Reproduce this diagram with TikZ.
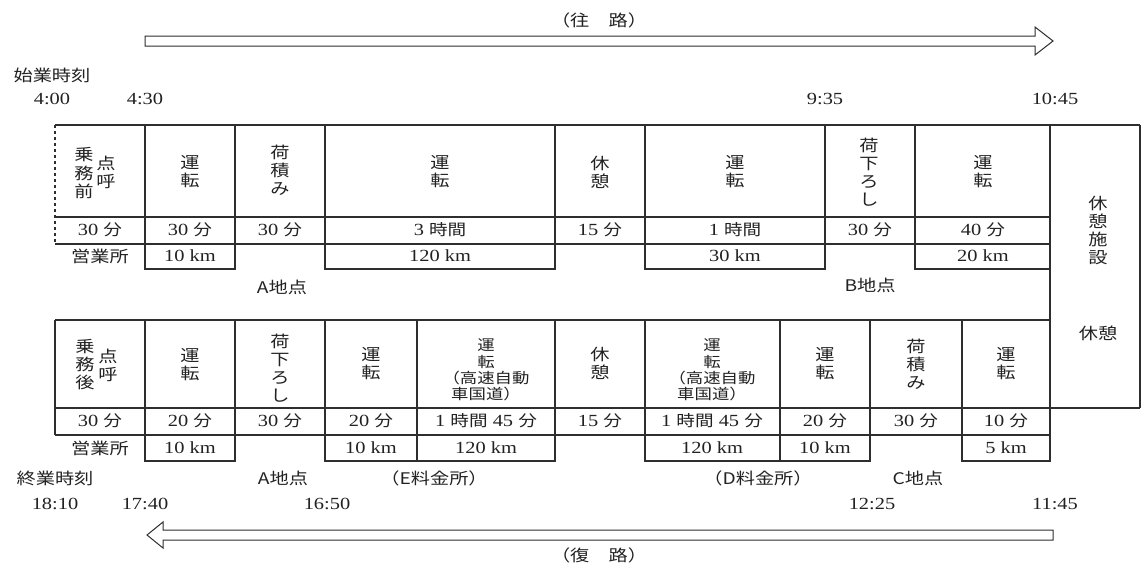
\documentclass[tikz,border=0pt]{standalone}
\usepackage{fontspec}
\setmainfont{Liberation Serif}[FakeStretch=1.2]
\newfontfamily\jp{Noto Sans CJK JP}[FakeStretch=1.2]
\definecolor{linec}{HTML}{2E2E2E}
\definecolor{txtc}{HTML}{222222}
\newcommand\jt[1]{{\jp\fontsize{15.5}{17}\selectfont #1}}
\tikzset{
  ln/.style={draw=linec, line width=1.3pt},
  arr/.style={draw=linec, line width=1pt},
  vt/.style={font=\jp\fontsize{16}{18}\selectfont, text=txtc, align=center, inner sep=0pt},
  vtl/.style={font=\jp\fontsize{14.5}{16.3}\selectfont, text=txtc, align=center, inner sep=0pt},
  num/.style={font=\fontsize{17}{18}\selectfont, text=txtc, inner sep=0pt},
  lbl/.style={font=\jp\fontsize{16}{18}\selectfont, text=txtc, inner sep=0pt},
}
\begin{document}
\begin{tikzpicture}[x=1pt,y=-1pt]
\useasboundingbox (0,0) rectangle (1142,566);
\fill[white] (0,0) rectangle (1142,566);

% ---------- arrows ----------
\draw[arr] (145,36)--(1035,36)--(1035,27)--(1053,41)--(1035,55)--(1035,46)--(145,46)--cycle;
\node[lbl] (outward) at (599,20) {（往　路）};
\draw[arr] (1053,530)--(163,530)--(163,522)--(147,535)--(163,548)--(163,540)--(1053,540)--cycle;
\node[lbl] (return) at (599,555) {（復　路）};

% ---------- top labels ----------
\node[lbl] (start) at (52,75) {始業時刻};
\node[num] (t400) at (52,99) {4:00};
\node[num] (t430) at (145,99) {4:30};
\node[num] (t935) at (825,99) {9:35};
\node[num] (t1045) at (1055,99) {10:45};

% ---------- upper table lines ----------
\draw[ln] (55,125)--(1140,125);
\draw[ln,dashed] (55,125)--(55,244);
\foreach \x in {145,235,325,555,645,825,915} \draw[ln] (\x,125)--(\x,244);
\draw[ln] (1050,125)--(1050,461);
\draw[ln] (1140,125)--(1140,408);
\draw[ln] (55,217)--(1050,217);
\draw[ln] (55,244)--(1050,244);
\foreach \a/\b in {145/235,325/555,645/825,915/1050} \draw[ln] (\a,244) rectangle (\b,269);

% ---------- lower table lines ----------
\draw[ln] (55,320)--(1050,320);
\draw[ln] (55,320)--(55,435);
\foreach \x in {145,235,325,417,555,645,780,870,962} \draw[ln] (\x,320)--(\x,435);
\draw[ln] (55,408)--(1140,408);
\draw[ln] (55,435)--(1050,435);
\foreach \a/\b in {145/235,325/417,417/555,645/780,780/870,962/1050} \draw[ln] (\a,435) rectangle (\b,461);

% ---------- upper table text ----------
\node[vt] (u1a) at (84,173) {乗\\務\\前};
\node[vt] (u1b) at (106,172) {点\\呼};
\node[vt] (u2) at (190,172) {運\\転};
\node[vt] (u3) at (280,170) {荷\\積\\み};
\node[vt] (u4) at (440,172) {運\\転};
\node[vt] (u5) at (600,172) {休\\憩};
\node[vt] (u6) at (735,172) {運\\転};
\node[vt] (u7) at (869,172) {荷\\下\\ろ\\し};
\node[vt] (u8) at (983,172) {運\\転};
\node[vt] (rest1) at (1098,230) {休\\憩\\施\\設};
\node[vt] (rest2) at (1098,333) {休憩};

\node[num] (ut1) at (100,230) {30 \jt{分}};
\node[num] (ut2) at (190,230) {30 \jt{分}};
\node[num] (ut3) at (280,230) {30 \jt{分}};
\node[num] (ut4) at (440,230) {3 \jt{時間}};
\node[num] (ut5) at (600,230) {15 \jt{分}};
\node[num] (ut6) at (735,230) {1 \jt{時間}};
\node[num] (ut7) at (870,230) {30 \jt{分}};
\node[num] (ut8) at (983,230) {40 \jt{分}};

\node[lbl] (uk1) at (100,256) {営業所};
\node[num] (uk2) at (190,256) {10 km};
\node[num] (uk4) at (440,256) {120 km};
\node[num] (uk6) at (735,256) {30 km};
\node[num] (uk8) at (983,256) {20 km};

\node[lbl] (ptA1) at (282,287) {A地点};
\node[lbl] (ptB) at (870,285) {B地点};

% ---------- lower table text ----------
\node[vt] (l1a) at (85,365) {乗\\務\\後};
\node[vt] (l1b) at (108,365) {点\\呼};
\node[vt] (l2) at (190,365) {運\\転};
\node[vt] (l3) at (280,368) {荷\\下\\ろ\\し};
\node[vt] (l4) at (371,364) {運\\転};
\node[vtl] (l5) at (486,370) {運\\転\\（高速自動\\車国道）};
\node[vt] (l6) at (600,363) {休\\憩};
\node[vtl] (l7) at (712,370) {運\\転\\（高速自動\\車国道）};
\node[vt] (l8) at (825,364) {運\\転};
\node[vt] (l9) at (916,364) {荷\\積\\み};
\node[vt] (l10) at (1006,364) {運\\転};

\node[num] (lt1) at (100,421) {30 \jt{分}};
\node[num] (lt2) at (190,421) {20 \jt{分}};
\node[num] (lt3) at (280,421) {30 \jt{分}};
\node[num] (lt4) at (371,421) {20 \jt{分}};
\node[num] (lt5) at (486,421) {1 \jt{時間} 45 \jt{分}};
\node[num] (lt6) at (600,421) {15 \jt{分}};
\node[num] (lt7) at (712,421) {1 \jt{時間} 45 \jt{分}};
\node[num] (lt8) at (825,421) {20 \jt{分}};
\node[num] (lt9) at (916,421) {30 \jt{分}};
\node[num] (lt10) at (1006,421) {10 \jt{分}};

\node[lbl] (lk1) at (100,448) {営業所};
\node[num] (lk2) at (190,448) {10 km};
\node[num] (lk4) at (371,448) {10 km};
\node[num] (lk5) at (486,448) {120 km};
\node[num] (lk7) at (712,448) {120 km};
\node[num] (lk8) at (825,448) {10 km};
\node[num] (lk10) at (1006,448) {5 km};

% ---------- bottom labels ----------
\node[lbl] (end) at (55,478) {終業時刻};
\node[lbl] (ptA2) at (283,478) {A地点};
\node[lbl] (tollE) at (434,478) {（E料金所）};
\node[lbl] (tollD) at (758,478) {（D料金所）};
\node[lbl] (ptC) at (918,478) {C地点};
\node[num] (t1810) at (55,504) {18:10};
\node[num] (t1740) at (145,504) {17:40};
\node[num] (t1650) at (327,504) {16:50};
\node[num] (t1225) at (872,504) {12:25};
\node[num] (t1145) at (1055,504) {11:45};
\end{tikzpicture}
\end{document}
